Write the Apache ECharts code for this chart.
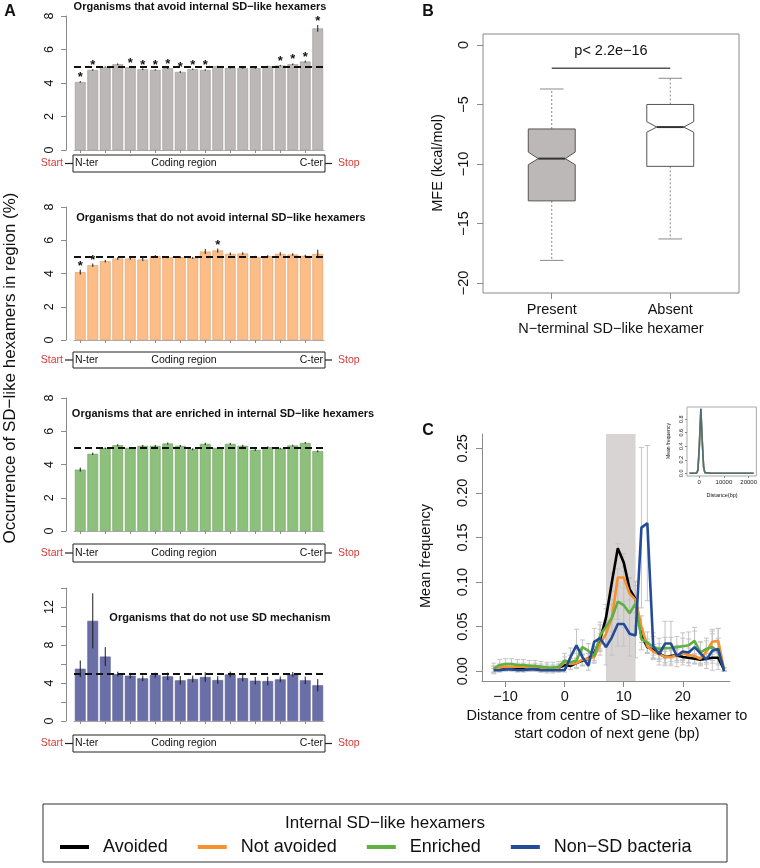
<!DOCTYPE html>
<html><head><meta charset="utf-8">
<script src="https://cdn.jsdelivr.net/npm/echarts@6/dist/echarts.min.js"></script>
<style>html,body{margin:0;padding:0;background:#fff}#c{width:760px;height:868px}</style>
</head><body><div id="c"></div>
<script>
// ---------------- Panel A data ----------------
const binLabels = ['1','2','3','4','5','6','7','8','9','10','11','12','13','14','15','16','17','18','19','20'];
const avoidVals    = [4.06,4.78,4.96,5.12,4.94,4.82,4.78,4.88,4.66,4.82,4.78,5.00,4.90,4.88,4.88,5.00,5.04,5.12,5.28,7.26];
const avoidErr     = [0.05,0.05,0.03,0.05,0.04,0.05,0.04,0.04,0.06,0.04,0.04,0.03,0.03,0.03,0.03,0.03,0.04,0.05,0.06,0.20];
const notAvoidVals = [4.08,4.50,4.74,4.90,4.90,4.84,5.04,4.98,4.98,4.94,5.32,5.38,5.18,5.20,5.00,5.04,5.18,5.14,5.06,5.18];
const notAvoidErr  = [0.15,0.10,0.08,0.08,0.07,0.09,0.07,0.06,0.06,0.06,0.15,0.12,0.08,0.08,0.06,0.06,0.10,0.08,0.07,0.25];
const enrichedVals = [3.69,4.64,4.98,5.16,5.00,5.12,5.12,5.26,5.12,4.92,5.24,5.00,5.24,5.12,4.88,5.04,4.96,5.14,5.30,4.80];
const enrichedErr  = [0.12,0.07,0.05,0.06,0.05,0.06,0.06,0.06,0.06,0.06,0.07,0.05,0.06,0.06,0.06,0.05,0.05,0.05,0.05,0.06];
const nonSDVals    = [5.50,10.54,6.78,4.94,4.77,4.49,4.83,4.70,4.28,4.42,4.63,4.31,4.90,4.52,4.24,4.21,4.38,4.90,4.28,3.76];
const nonSDErr     = [0.87,2.90,1.00,0.25,0.30,0.30,0.25,0.40,0.45,0.35,0.50,0.40,0.30,0.35,0.40,0.45,0.30,0.25,0.40,0.65];
const starsAvoid    = [0,1,4,5,6,7,8,9,10,16,17,18,19];
const starsNotAvoid = [0,1,11];
const starsEnriched = [];
const starsNonSD    = [];
const aTitles = ['Organisms that avoid internal SD\u2212like hexamers',
                 'Organisms that do not avoid internal SD\u2212like hexamers',
                 'Organisms that are enriched in internal SD\u2212like hexamers',
                 'Organisms that do not use SD mechanism'];
const aTickLabels = [[0,2,4,6,8],[0,2,4,6,8],[0,2,4,6,8],[0,4,8,12]];
const aMax = [8,8,8,14];
const expectedPct = 5;

// ---------------- Panel B data ----------------
const mfeGroups  = ['Present','Absent'];
// min, Q1, notch low, median, notch high, Q3, max
const mfePresent = [-18.1,-13.1,-10.06,-9.55,-9.0,-7.06,-3.7];
const mfeAbsent  = [-16.3,-10.2,-7.33,-6.9,-6.45,-5.0,-2.8];
const mfeTicks   = [-20,-15,-10,-5,0];
const pText = 'p< 2.2e\u221216';
const pBracketY = -1.95;

// ---------------- Panel C data ----------------
const distance = [-12,-11,-10,-9,-8,-7,-6,-5,-4,-3,-2,-1,0,1,2,3,4,5,6,7,8,9,10,11,12,13,14,15,16,17,18,19,20,21,22,23,24,25,26,27];
const freqAvoided    = [0.002,0.003,0.004,0.004,0.004,0.004,0.003,0.003,0.003,0.003,0.003,0.004,0.007,0.006,0.009,0.012,0.014,0.020,0.035,0.060,0.100,0.138,0.122,0.092,0.081,0.040,0.027,0.024,0.020,0.016,0.017,0.018,0.016,0.015,0.014,0.013,0.014,0.015,0.015,0.002];
const errAvoided     = [0.003,0.003,0.003,0.003,0.003,0.003,0.003,0.003,0.003,0.003,0.003,0.003,0.004,0.004,0.005,0.006,0.006,0.008,0.012,0.015,0.010,0.005,0.010,0.012,0.015,0.008,0.006,0.006,0.006,0.006,0.006,0.006,0.006,0.006,0.006,0.006,0.006,0.006,0.006,0.002];
const freqNotAvoided = [0.002,0.004,0.005,0.005,0.005,0.005,0.004,0.005,0.004,0.004,0.003,0.004,0.010,0.008,0.009,0.013,0.014,0.016,0.030,0.042,0.060,0.105,0.105,0.087,0.080,0.050,0.028,0.022,0.019,0.016,0.016,0.018,0.020,0.018,0.017,0.014,0.022,0.033,0.034,0.002];
const errNotAvoided  = [0.004,0.004,0.004,0.004,0.004,0.004,0.004,0.004,0.004,0.004,0.004,0.004,0.006,0.006,0.006,0.006,0.006,0.006,0.012,0.015,0.015,0.010,0.012,0.018,0.020,0.012,0.008,0.008,0.008,0.008,0.008,0.008,0.008,0.008,0.008,0.008,0.012,0.014,0.014,0.002];
const freqEnriched   = [0.003,0.007,0.008,0.008,0.007,0.007,0.006,0.006,0.005,0.004,0.004,0.005,0.012,0.010,0.012,0.027,0.023,0.017,0.040,0.050,0.060,0.078,0.074,0.065,0.076,0.036,0.032,0.027,0.025,0.026,0.026,0.027,0.028,0.029,0.034,0.021,0.025,0.027,0.022,0.002];
const errEnriched    = [0.006,0.006,0.006,0.006,0.006,0.006,0.006,0.006,0.006,0.006,0.006,0.006,0.008,0.008,0.008,0.008,0.008,0.008,0.015,0.020,0.020,0.020,0.025,0.025,0.025,0.012,0.012,0.012,0.012,0.012,0.012,0.012,0.015,0.015,0.015,0.012,0.012,0.015,0.015,0.002];
const freqNonSD      = [0.001,0.001,0.002,0.002,0.001,0.001,0.002,0.002,0.001,0.001,0.001,0.001,0.001,0.016,0.029,0.016,0.006,0.033,0.037,0.027,0.038,0.053,0.053,0.042,0.040,0.161,0.166,0.028,0.019,0.031,0.031,0.017,0.022,0.021,0.027,0.020,0.013,0.023,0.025,0.000];
const errNonSD       = [0.002,0.002,0.002,0.002,0.002,0.002,0.002,0.002,0.002,0.002,0.002,0.002,0.002,0.010,0.018,0.010,0.005,0.015,0.015,0.020,0.020,0.025,0.025,0.025,0.025,0.090,0.087,0.015,0.012,0.025,0.025,0.012,0.015,0.015,0.018,0.012,0.010,0.022,0.023,0.000];
const cXTicks = [-10,0,10,20];
const cYTicks = [0,0.05,0.10,0.15,0.20,0.25];
const shadedBand = [7,12];

// inset
const insetDistance    = [-3900,-2000,-1000,-500,0,700,1300,1800,2300,3000,5000,8000,11000,14000,17000,20000,22000];
const insetAvoided     = [0,0,0.005,0.05,0.35,0.95,0.45,0.10,0.01,0.002,0.001,0.001,0.001,0.001,0.001,0.001,0.001];
const insetNotAvoided  = [0,0,0.005,0.05,0.33,0.92,0.43,0.09,0.01,0.002,0.001,0.001,0.001,0.001,0.001,0.001,0.001];
const insetEnriched    = [0,0,0.005,0.05,0.32,0.90,0.42,0.09,0.01,0.002,0.001,0.001,0.001,0.001,0.001,0.001,0.001];
const insetNonSD       = [0,0,0.004,0.04,0.34,0.96,0.46,0.10,0.01,0.002,0.001,0.001,0.001,0.001,0.001,0.001,0.001];
const insetXTicks = [0,10000,20000];
const insetYTicks = [0,0.2,0.4,0.6,0.8];

const legendTitle = 'Internal SD\u2212like hexamers';
const legendNames = ['Avoided','Not avoided','Enriched','Non\u2212SD bacteria'];

// ---------------- styles / layout ----------------
const FONT = '"Liberation Sans", Arial, Helvetica, sans-serif';
const lineColors = ['#000000','#f5912e','#5fb040','#234b98'];
const aColors = ['#bdb8b8','#fdbd86','#8cc07b','#6a6fa8'];
const aBorders = ['#9a9595','#d99d6c','#6f9e60','#555a8c'];
const aLayout = [
  {top:16,  height:134, titleY:7,   titleX:200, boxTop:155, boxBot:172},
  {top:207, height:133, titleY:218, titleX:221, boxTop:352, boxBot:368},
  {top:398, height:133, titleY:414, titleX:223, boxTop:544, boxBot:562},
  {top:588, height:133, titleY:618, titleX:220, boxTop:735, boxBot:752}
];
const minus = v => (v < 0 ? '\u2212' + String(-v) : String(v));

const G = [];
function txt(x, y, text, o) {
  o = o || {};
  G.push({type:'text', x:x, y:y, rotation:o.rot||0, silent:true, z:10,
    style:{x:0, y:0, text:text, fill:o.color||'#111',
      font:(o.weight||'normal')+' '+(o.size||12)+'px '+FONT,
      textAlign:o.align||'center', textVerticalAlign:o.valign||'middle'}});
}
function ln(x1,y1,x2,y2,color,w){ G.push({type:'line', silent:true, z:10, shape:{x1,y1,x2,y2}, style:{stroke:color||'#111', lineWidth:w||1}}); }
function rc(x,y,w,h,color,lw){ G.push({type:'rect', silent:true, z:10, shape:{x:x,y:y,width:w,height:h}, style:{fill:'none', stroke:color||'#111', lineWidth:lw||1}}); }

// Panel letters
txt(10, 12, 'A', {weight:'bold', size:16});
txt(428, 12, 'B', {weight:'bold', size:16});
txt(428, 431, 'C', {weight:'bold', size:16});
// Panel A y title
txt(10, 368, 'Occurrence of SD\u2212like hexamers in region (%)', {rot:Math.PI/2, size:17});
aLayout.forEach((L, i) => {
  txt(L.titleX, L.titleY, aTitles[i], {weight:'bold', size:11});
  const mid = (L.boxTop + L.boxBot) / 2;
  rc(73, L.boxTop, 252, L.boxBot - L.boxTop, '#222', 1);
  ln(65, mid, 73, mid, '#222', 1.2);
  ln(325, mid, 332, mid, '#222', 1.2);
  txt(63, mid, 'Start', {align:'right', size:10.5, color:'#d63a34'});
  txt(338, mid, 'Stop', {align:'left', size:10.5, color:'#d63a34'});
  txt(75, mid, 'N-ter', {align:'left', size:10.5});
  txt(184, mid, 'Coding region', {size:10.5});
  txt(323, mid, 'C-ter', {align:'right', size:10.5});
});
// Panel B texts
txt(438, 163, 'MFE (kcal/mol)', {rot:Math.PI/2, size:14.5});
txt(611, 51, pText, {size:14.5});
txt(611, 329, 'N\u2212terminal SD\u2212like hexamer', {size:14.5});
// Panel C texts
txt(426, 556, 'Mean frequency', {rot:Math.PI/2, size:14.5});
txt(607, 716, 'Distance from centre of SD\u2212like hexamer to', {size:14.5});
txt(607, 734, 'start codon of next gene (bp)', {size:14.5});
txt(669, 441, 'Mean frequency', {rot:Math.PI/2, size:5});
txt(722, 495, 'Distance(bp)', {size:5.5});
// Legend box
rc(43, 804, 684, 58, '#333', 1);
txt(385, 823, legendTitle, {size:17});

// ---------------- render helpers ----------------
function errA(params, api) {
  const p1 = api.coord([api.value(0), api.value(1)]);
  const p2 = api.coord([api.value(0), api.value(2)]);
  return {type:'line', shape:{x1:p1[0], y1:p1[1], x2:p2[0], y2:p2[1]}, style:{stroke:'#1a1a1a', lineWidth:1}};
}
function starA(params, api) {
  const p = api.coord([api.value(0), api.value(1)]);
  return {type:'text', x:p[0], y:p[1] + 3, style:{text:'*', font:'bold 13px ' + FONT, fill:'#111', textAlign:'center', textVerticalAlign:'bottom'}};
}
function errCap(params, api) {
  const p1 = api.coord([api.value(0), api.value(1)]);
  const p2 = api.coord([api.value(0), api.value(2)]);
  const st = {stroke:'#c4c4c4', lineWidth:1};
  return {type:'group', children:[
    {type:'line', shape:{x1:p1[0], y1:p1[1], x2:p2[0], y2:p2[1]}, style:st},
    {type:'line', shape:{x1:p1[0]-2.5, y1:p1[1], x2:p1[0]+2.5, y2:p1[1]}, style:st},
    {type:'line', shape:{x1:p2[0]-2.5, y1:p2[1], x2:p2[0]+2.5, y2:p2[1]}, style:st}
  ]};
}
function bandItem(params, api) {
  const cs = params.coordSys;
  const a = api.coord([api.value(0), 0])[0];
  const b = api.coord([api.value(1), 0])[0];
  return {type:'rect', shape:{x:a, y:cs.y, width:b - a, height:cs.height}, style:{fill:'#d8d4d4'}};
}
const boxFills = ['#bcb8b8', '#ffffff'];
function notchBox(params, api) {
  const x = api.value(0);
  const v = [1,2,3,4,5,6,7].map(k => api.value(k));
  const mn=v[0], q1=v[1], nl=v[2], md=v[3], nh=v[4], q3=v[5], mx=v[6];
  const c = (xx, yy) => api.coord([xx, yy]);
  const w = 0.198, nw = 0.114, cw = 0.1;
  const pts = [c(x-w,q3), c(x+w,q3), c(x+w,nh), c(x+nw,md), c(x+w,nl), c(x+w,q1), c(x-w,q1), c(x-w,nl), c(x-nw,md), c(x-w,nh)];
  const wk = {stroke:'#8a8a8a', lineWidth:1, lineDash:[2,2]};
  const cp = {stroke:'#8a8a8a', lineWidth:1};
  const seg = (a, b, st) => ({type:'line', shape:{x1:a[0], y1:a[1], x2:b[0], y2:b[1]}, style:st});
  return {type:'group', children:[
    seg(c(x,q3), c(x,mx), wk), seg(c(x,q1), c(x,mn), wk),
    seg(c(x-cw,mx), c(x+cw,mx), cp), seg(c(x-cw,mn), c(x+cw,mn), cp),
    {type:'polygon', shape:{points:pts}, style:{fill:boxFills[params.dataIndex], stroke:'#555', lineWidth:1}},
    seg(c(x-nw,md), c(x+nw,md), {stroke:'#333', lineWidth:2})
  ]};
}

// ---------------- build option ----------------
const aData = [
  {vals:avoidVals, err:avoidErr, stars:starsAvoid},
  {vals:notAvoidVals, err:notAvoidErr, stars:starsNotAvoid},
  {vals:enrichedVals, err:enrichedErr, stars:starsEnriched},
  {vals:nonSDVals, err:nonSDErr, stars:starsNonSD}
];
const grids = [], xAxes = [], yAxes = [], series = [];
const axisGray = '#8a8a8a';
aLayout.forEach((L, i) => {
  grids.push({left:74, width:250, top:L.top, height:L.height});
  xAxes.push({type:'category', gridIndex:i, data:binLabels,
    axisLine:{show:true, lineStyle:{color:'#aaa', width:1}},
    axisTick:{show:true, alignWithLabel:true, length:3, lineStyle:{color:axisGray}},
    axisLabel:{show:false}, splitLine:{show:false}});
  yAxes.push({type:'value', gridIndex:i, min:0, max:aMax[i], interval:2, offset:8,
    axisLine:{show:true, lineStyle:{color:axisGray}},
    axisTick:{show:true, length:5, lineStyle:{color:axisGray}},
    axisLabel:{rotate:90, fontSize:12.5, color:'#111', margin:10, fontFamily:FONT, customValues:aTickLabels[i]},
    splitLine:{show:false}});
  const d = aData[i];
  series.push({type:'bar', xAxisIndex:i, yAxisIndex:i, data:d.vals, barCategoryGap:'14%',
    itemStyle:{color:aColors[i], borderColor:aBorders[i], borderWidth:0.6}, silent:true,
    markLine:{silent:true, symbol:['none','none'], label:{show:false},
      lineStyle:{type:[7,4], color:'#111', width:2}, data:[{yAxis:expectedPct}]}});
  series.push({type:'custom', xAxisIndex:i, yAxisIndex:i, renderItem:errA, z:4, silent:true,
    encode:{x:0, y:[1,2]}, data:d.vals.map((v,k) => [k, v - d.err[k], v + d.err[k]])});
  series.push({type:'custom', xAxisIndex:i, yAxisIndex:i, renderItem:starA, z:5, silent:true,
    encode:{x:0, y:1}, data:d.stars.map(k => [k, d.vals[k] + d.err[k]])});
});
// Panel B (grid 4)
grids.push({left:483, top:34, width:256, height:259, show:true, borderColor:'#8a8a8a', borderWidth:1});
xAxes.push({type:'value', gridIndex:4, min:0.42, max:2.58,
  axisLine:{show:false, onZero:false}, splitLine:{show:false},
  axisTick:{show:true, customValues:[1,2], length:6, lineStyle:{color:axisGray}},
  axisLabel:{customValues:[1,2], formatter:v => mfeGroups[Math.round(v) - 1], fontSize:14.5, color:'#111', margin:9, fontFamily:FONT}});
yAxes.push({type:'value', gridIndex:4, min:-20.84, max:0.92,
  axisLine:{show:false, onZero:false}, splitLine:{show:false},
  axisTick:{show:true, customValues:mfeTicks, length:6, lineStyle:{color:axisGray}},
  axisLabel:{customValues:mfeTicks, rotate:90, formatter:minus, fontSize:14.5, color:'#111', margin:12, fontFamily:FONT}});
series.push({type:'custom', xAxisIndex:4, yAxisIndex:4, renderItem:notchBox, silent:true,
  encode:{x:0, y:[1,2,3,4,5,6,7]}, data:[[1].concat(mfePresent), [2].concat(mfeAbsent)]});
series.push({type:'line', xAxisIndex:4, yAxisIndex:4, data:[[1,pBracketY],[2,pBracketY]], symbol:'none', silent:true,
  lineStyle:{color:'#555', width:1.5}});
// Panel C (grid 5)
grids.push({left:482, top:434, width:248, height:247});
xAxes.push({type:'value', gridIndex:5, min:-14, max:28,
  axisLine:{show:true, onZero:false, lineStyle:{color:axisGray}}, splitLine:{show:false},
  axisTick:{show:true, customValues:cXTicks, length:6, lineStyle:{color:axisGray}},
  axisLabel:{customValues:cXTicks, formatter:minus, fontSize:14.5, color:'#111', margin:8, fontFamily:FONT}});
yAxes.push({type:'value', gridIndex:5, min:-0.011, max:0.266,
  axisLine:{show:true, onZero:false, lineStyle:{color:axisGray}}, splitLine:{show:false},
  axisTick:{show:true, customValues:cYTicks, length:6, lineStyle:{color:axisGray}},
  axisLabel:{customValues:cYTicks, rotate:90, formatter:v => v.toFixed(2), fontSize:14.5, color:'#111', margin:12, fontFamily:FONT}});
series.push({type:'custom', xAxisIndex:5, yAxisIndex:5, renderItem:bandItem, z:0, silent:true,
  encode:{x:[0,1]}, data:[shadedBand]});
const cSets = [[freqAvoided, errAvoided],[freqNotAvoided, errNotAvoided],[freqEnriched, errEnriched],[freqNonSD, errNonSD]];
cSets.forEach((s, j) => {
  series.push({type:'custom', xAxisIndex:5, yAxisIndex:5, renderItem:errCap, z:1, silent:true,
    encode:{x:0, y:[1,2]}, data:distance.map((d,k) => [d, s[0][k] - s[1][k], s[0][k] + s[1][k]])});
});
cSets.forEach((s, j) => {
  series.push({type:'line', name:legendNames[j], xAxisIndex:5, yAxisIndex:5, z:3 + j, silent:true,
    data:distance.map((d,k) => [d, s[0][k]]), symbol:'none', color:lineColors[j],
    lineStyle:{color:lineColors[j], width:2.6}});
});
// Inset (grid 6)
grids.push({left:687, top:407, width:70, height:69, show:true, borderColor:'#aaa', borderWidth:1, backgroundColor:'#fff'});
xAxes.push({type:'value', gridIndex:6, min:-4900, max:23100,
  axisLine:{show:false, onZero:false}, splitLine:{show:false},
  axisTick:{show:true, customValues:insetXTicks, length:2, lineStyle:{color:axisGray}},
  axisLabel:{customValues:insetXTicks, formatter:v => String(Math.round(v)), fontSize:6, color:'#222', margin:3, fontFamily:FONT}});
yAxes.push({type:'value', gridIndex:6, min:-0.04, max:0.98,
  axisLine:{show:false, onZero:false}, splitLine:{show:false},
  axisTick:{show:true, customValues:insetYTicks, length:2, lineStyle:{color:axisGray}},
  axisLabel:{customValues:insetYTicks, rotate:90, formatter:v => v.toFixed(1), fontSize:5.5, color:'#222', margin:3, fontFamily:FONT}});
[insetAvoided, insetNotAvoided, insetEnriched, insetNonSD].forEach((arr, j) => {
  series.push({type:'line', name:legendNames[j], xAxisIndex:6, yAxisIndex:6, z:6, silent:true,
    data:insetDistance.map((d,k) => [d, arr[k]]), symbol:'none', color:lineColors[j],
    lineStyle:{color:lineColors[j], width:1.6, opacity:0.55}});
});

const option = {
  animation:false,
  backgroundColor:'#fff',
  textStyle:{fontFamily:FONT},
  grid:grids, xAxis:xAxes, yAxis:yAxes, series:series,
  legend:{data:legendNames, left:60, top:838, padding:0, itemGap:30, itemWidth:29, itemHeight:4,
    icon:'rect', selectedMode:false, textStyle:{fontSize:18, color:'#111', fontFamily:FONT, padding:[0,0,0,9]}},
  graphic:{elements:G}
};
const chart = echarts.init(document.getElementById('c'));
chart.setOption(option);
</script></body></html>
